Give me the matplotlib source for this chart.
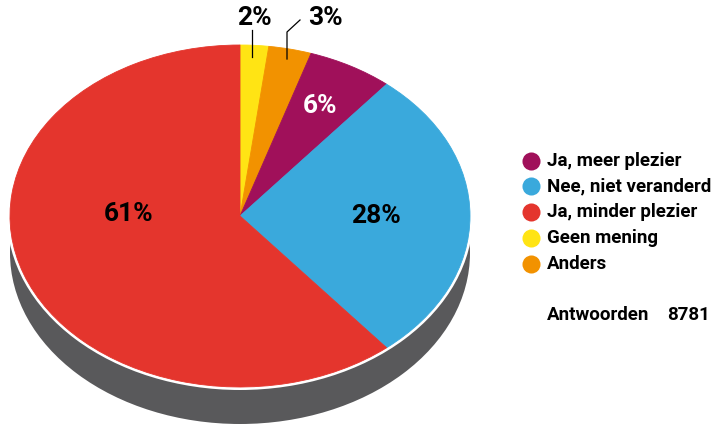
import numpy as np
import matplotlib
matplotlib.use("Agg")
import matplotlib.pyplot as plt
from matplotlib.patches import Ellipse

plt.rcParams['font.family'] = ['Roboto', 'DejaVu Sans']

# Donnees
labels = ['Geen mening', 'Anders', 'Ja, meer plezier', 'Nee, niet veranderd', 'Ja, minder plezier']
values = [2, 3, 6, 28, 61]
colors = ['#FFE414', '#F29200', '#A0105A', '#3AA9DC', '#E4352D']
legend_order = [2, 3, 4, 0, 1]
total_label = 'Antwoorden'
total_value = '8781'

W, H = 715, 428
cx, cy, rx, ry = 240, 216, 230, 171  # pixels

def px(x, y):
    return (x - cx) / rx, (cy - y) / ry

fig = plt.figure(figsize=(W / 100, H / 100), dpi=100)
ax = fig.add_axes([0, 0, 1, 1])

# ombre et bord blanc
off = 37 / ry
ax.add_patch(Ellipse((0, -off), 2, 2, facecolor='#59595B', edgecolor='none', zorder=1))
ax.add_patch(Ellipse((0, 0), 2 + 6 / rx, 2 + 6 / ry, facecolor='white', edgecolor='none', zorder=2))

wedges, _ = ax.pie(values, colors=colors, startangle=90, counterclock=False,
                   radius=1, wedgeprops=dict(linewidth=0.6, zorder=3))
for w, c in zip(wedges, colors):
    w.set_edgecolor(c)
    w.set_zorder(3)

ax.set_aspect('auto')
ax.set_xlim((0 - cx) / rx, (W - cx) / rx)
ax.set_ylim((cy - H) / ry, (cy - 0) / ry)
ax.axis('off')

fs = 19
ax.text(*px(129, 214), '61%', fontsize=fs, fontweight='bold', color='black', ha='center', va='center', zorder=5)
ax.text(*px(376, 216), '28%', fontsize=fs, fontweight='bold', color='black', ha='center', va='center', zorder=5)
ax.text(*px(320, 106), '6%', fontsize=fs, fontweight='bold', color='white', ha='center', va='center', zorder=5)
ax.text(*px(254, 18), '2%', fontsize=fs, fontweight='bold', color='black', ha='center', va='center', zorder=5)
ax.text(*px(325, 18), '3%', fontsize=fs, fontweight='bold', color='black', ha='center', va='center', zorder=5)

# traits de rappel
x1, y1 = px(252, 57)
x2, y2 = px(252, 30)
ax.plot([x1, x2], [y1, y2], color='black', lw=0.9, zorder=5, clip_on=False)
p = [px(287, 59), px(287, 32), px(300, 20)]
ax.plot([q[0] for q in p], [q[1] for q in p], color='black', lw=0.9, zorder=5, clip_on=False)

# legende
rows = [161, 186, 212, 238, 264]
for py, i in zip(rows, legend_order):
    fig.add_artist(plt.Line2D([531 / W], [1 - py / H], marker='o', markersize=13,
                              color=colors[i], markeredgewidth=0, linestyle='none'))
    fig.text(547 / W, 1 - py / H, labels[i], fontsize=13.5, fontweight='bold', ha='left', va='center')

fig.text(547 / W, 1 - 315 / H, total_label, fontsize=13.5, fontweight='bold', ha='left', va='center')
fig.text(710 / W, 1 - 315 / H, total_value, fontsize=13.5, fontweight='bold', ha='right', va='center')

fig.savefig('out.png', dpi=100)
